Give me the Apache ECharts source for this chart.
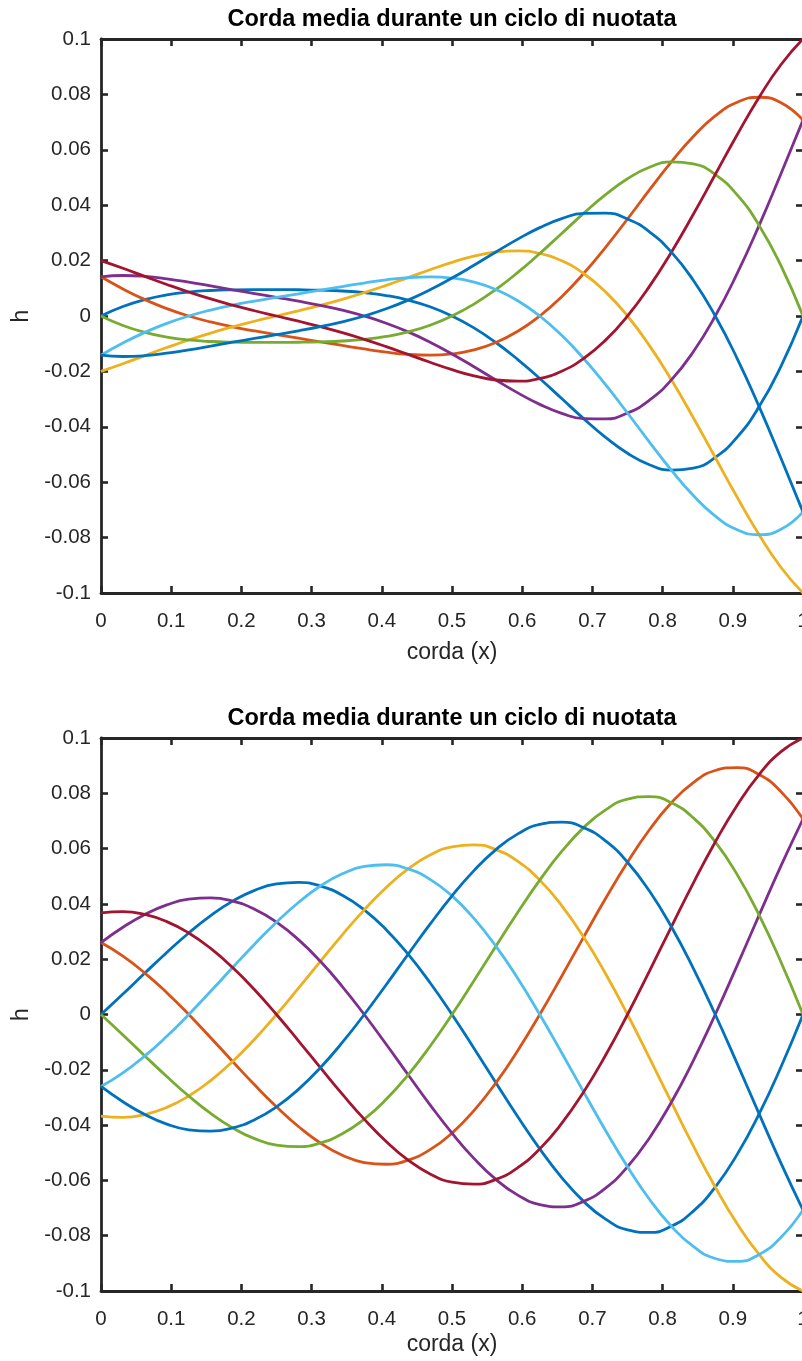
<!DOCTYPE html>
<html>
<head>
<meta charset="utf-8">
<script src="https://cdn.jsdelivr.net/npm/echarts@6/dist/echarts.min.js"></script>
<style>
html,body{margin:0;padding:0;background:#fff;}
#chart{width:802px;height:1361px;}
</style>
</head>
<body>
<div id="chart"></div>
<script>
// chord positions (x)
const xs = [0, 0.03125, 0.0625, 0.09375, 0.125, 0.15625, 0.1875, 0.21875, 0.25, 0.28125, 0.3125, 0.34375, 0.375, 0.40625, 0.4375, 0.46875, 0.5, 0.53125, 0.5625, 0.59375, 0.625, 0.65625, 0.6875, 0.71875, 0.75, 0.78125, 0.8125, 0.84375, 0.875, 0.90625, 0.9375, 0.96875, 1];

// top panel curves (h)
const topBlue      = [0, 0.00343, 0.00592, 0.00761, 0.00865, 0.00921, 0.00946, 0.00954, 0.00953, 0.00947, 0.00932, 0.00902, 0.00842, 0.00739, 0.00574, 0.00332, 0, -0.0043, -0.00957, -0.01572, -0.02257, -0.0298, -0.03704, -0.04379, -0.04953, -0.05368, -0.05566, -0.05494, -0.05107, -0.04372, -0.03271, -0.01806, 0];
const topOrange    = [0.01414, 0.00977, 0.00592, 0.00267, 0, -0.00216, -0.00392, -0.00541, -0.00674, -0.00802, -0.00932, -0.01063, -0.01191, -0.01305, -0.01387, -0.01416, -0.0137, -0.01224, -0.00957, -0.00552, 0, 0.00699, 0.01534, 0.02481, 0.03502, 0.04551, 0.05566, 0.06481, 0.07223, 0.07718, 0.07897, 0.07698, 0.07071];
const topYellow    = [-0.02, -0.01724, -0.0143, -0.01139, -0.00865, -0.00615, -0.00392, -0.0019, 0, 0.00188, 0.00386, 0.00602, 0.00842, 0.01106, 0.01387, 0.01671, 0.01938, 0.02161, 0.02311, 0.02353, 0.02257, 0.01991, 0.01534, 0.00871, 0, -0.01068, -0.02305, -0.03671, -0.05107, -0.06543, -0.07897, -0.0908, -0.1];
const topPurple    = [0.01414, 0.01462, 0.0143, 0.01343, 0.01223, 0.01086, 0.00946, 0.00809, 0.00674, 0.00536, 0.00386, 0.00212, 0, -0.0026, -0.00574, -0.00946, -0.0137, -0.01832, -0.02311, -0.02776, -0.03191, -0.03515, -0.03704, -0.03713, -0.03502, -0.03041, -0.02305, -0.01289, 0, 0.01535, 0.03271, 0.05144, 0.07071];
const topGreen     = [0, -0.00343, -0.00592, -0.00761, -0.00865, -0.00921, -0.00946, -0.00954, -0.00953, -0.00947, -0.00932, -0.00902, -0.00842, -0.00739, -0.00574, -0.00332, 0, 0.0043, 0.00957, 0.01572, 0.02257, 0.0298, 0.03704, 0.04379, 0.04953, 0.05368, 0.05566, 0.05494, 0.05107, 0.04372, 0.03271, 0.01806, 0];
const topLightBlue = [-0.01414, -0.00977, -0.00592, -0.00267, 0, 0.00216, 0.00392, 0.00541, 0.00674, 0.00802, 0.00932, 0.01063, 0.01191, 0.01305, 0.01387, 0.01416, 0.0137, 0.01224, 0.00957, 0.00552, 0, -0.00699, -0.01534, -0.02481, -0.03502, -0.04551, -0.05566, -0.06481, -0.07223, -0.07718, -0.07897, -0.07698, -0.07071];
const topRed       = [0.02, 0.01724, 0.0143, 0.01139, 0.00865, 0.00615, 0.00392, 0.0019, 0, -0.00188, -0.00386, -0.00602, -0.00842, -0.01106, -0.01387, -0.01671, -0.01938, -0.02161, -0.02311, -0.02353, -0.02257, -0.01991, -0.01534, -0.00871, 0, 0.01068, 0.02305, 0.03671, 0.05107, 0.06543, 0.07897, 0.0908, 0.1];
const topBlue2     = [-0.01414, -0.01462, -0.0143, -0.01343, -0.01223, -0.01086, -0.00946, -0.00809, -0.00674, -0.00536, -0.00386, -0.00212, 0, 0.0026, 0.00574, 0.00946, 0.0137, 0.01832, 0.02311, 0.02776, 0.03191, 0.03515, 0.03704, 0.03713, 0.03502, 0.03041, 0.02305, 0.01289, 0, -0.01535, -0.03271, -0.05144, -0.07071];

// bottom panel curves (h)
const botBlue      = [0, 0.0074, 0.01499, 0.02245, 0.02948, 0.03576, 0.041, 0.0449, 0.04724, 0.0478, 0.04646, 0.04314, 0.03785, 0.03068, 0.0218, 0.01147, 0, -0.01221, -0.02471, -0.03701, -0.0486, -0.05896, -0.06759, -0.07403, -0.07788, -0.07881, -0.07659, -0.07112, -0.0624, -0.05059, -0.03595, -0.01891, 0];
const botOrange    = [0.02601, 0.02109, 0.01499, 0.00788, 0, -0.00839, -0.01698, -0.02544, -0.0334, -0.04052, -0.04646, -0.05088, -0.05353, -0.05416, -0.05264, -0.04888, -0.04289, -0.03477, -0.02471, -0.013, 0, 0.01383, 0.028, 0.04194, 0.05507, 0.06681, 0.07659, 0.08389, 0.08825, 0.0893, 0.08679, 0.08059, 0.07071];
const botYellow    = [-0.03679, -0.03723, -0.03618, -0.03359, -0.02948, -0.02389, -0.01698, -0.00893, 0, 0.00951, 0.01924, 0.02882, 0.03785, 0.04592, 0.05264, 0.05766, 0.06065, 0.06138, 0.05965, 0.05539, 0.0486, 0.0394, 0.028, 0.01473, 0, -0.01568, -0.03173, -0.04752, -0.0624, -0.07571, -0.08679, -0.09506, -0.1];
const botPurple    = [0.02601, 0.03156, 0.03618, 0.03963, 0.04169, 0.04218, 0.041, 0.03807, 0.0334, 0.02708, 0.01924, 0.01012, 0, -0.01077, -0.0218, -0.03266, -0.04289, -0.05203, -0.05965, -0.06533, -0.06873, -0.06955, -0.06759, -0.06276, -0.05507, -0.04464, -0.03173, -0.01669, 0, 0.01776, 0.03595, 0.05385, 0.07071];
const botGreen     = [0, -0.0074, -0.01499, -0.02245, -0.02948, -0.03576, -0.041, -0.0449, -0.04724, -0.0478, -0.04646, -0.04314, -0.03785, -0.03068, -0.0218, -0.01147, 0, 0.01221, 0.02471, 0.03701, 0.0486, 0.05896, 0.06759, 0.07403, 0.07788, 0.07881, 0.07659, 0.07112, 0.0624, 0.05059, 0.03595, 0.01891, 0];
const botLightBlue = [-0.02601, -0.02109, -0.01499, -0.00788, 0, 0.00839, 0.01698, 0.02544, 0.0334, 0.04052, 0.04646, 0.05088, 0.05353, 0.05416, 0.05264, 0.04888, 0.04289, 0.03477, 0.02471, 0.013, 0, -0.01383, -0.028, -0.04194, -0.05507, -0.06681, -0.07659, -0.08389, -0.08825, -0.0893, -0.08679, -0.08059, -0.07071];
const botRed       = [0.03679, 0.03723, 0.03618, 0.03359, 0.02948, 0.02389, 0.01698, 0.00893, 0, -0.00951, -0.01924, -0.02882, -0.03785, -0.04592, -0.05264, -0.05766, -0.06065, -0.06138, -0.05965, -0.05539, -0.0486, -0.0394, -0.028, -0.01473, 0, 0.01568, 0.03173, 0.04752, 0.0624, 0.07571, 0.08679, 0.09506, 0.1];
const botBlue2     = [-0.02601, -0.03156, -0.03618, -0.03963, -0.04169, -0.04218, -0.041, -0.03807, -0.0334, -0.02708, -0.01924, -0.01012, 0, 0.01077, 0.0218, 0.03266, 0.04289, 0.05203, 0.05965, 0.06533, 0.06873, 0.06955, 0.06759, 0.06276, 0.05507, 0.04464, 0.03173, 0.01669, 0, -0.01776, -0.03595, -0.05385, -0.07071];

const titleText = 'Corda media durante un ciclo di nuotata';
const xName = 'corda (x)';
const yName = 'h';

const colors = ['#0072BD', '#D95319', '#EDB120', '#7E2F8E', '#77AC30', '#4DBEEE', '#A2142F', '#0072BD'];
const topCurves = [topBlue, topOrange, topYellow, topPurple, topGreen, topLightBlue, topRed, topBlue2];
const botCurves = [botBlue, botOrange, botYellow, botPurple, botGreen, botLightBlue, botRed, botBlue2];

const FONT = "'Liberation Sans', Arial, Helvetica, sans-serif";
const AX = '#262626';

function pairs(ys) { return xs.map((x, i) => [x, ys[i]]); }

function xAxisDef(gridIndex, pos, nameGap) {
  const main = pos === 'bottom';
  return {
    type: 'value', gridIndex: gridIndex, position: pos,
    min: 0, max: 1, interval: 0.1,
    axisLine: { show: true, onZero: false, lineStyle: { color: AX, width: 2.8 } },
    axisTick: { show: true, inside: true, length: 7, lineStyle: { color: AX, width: 2.6 } },
    splitLine: { show: false },
    axisLabel: {
      show: main, margin: 18, color: AX, fontSize: 20.5, fontFamily: FONT,
      showMinLabel: true, showMaxLabel: true, hideOverlap: false,
      formatter: v => String(Math.round(v * 10) / 10)
    },
    name: main ? xName : '',
    nameLocation: 'middle', nameGap: nameGap,
    nameTextStyle: { color: AX, fontSize: 23, fontFamily: FONT }
  };
}

function yAxisDef(gridIndex, pos) {
  const main = pos === 'left';
  return {
    type: 'value', gridIndex: gridIndex, position: pos,
    min: -0.1, max: 0.1, interval: 0.02,
    axisLine: { show: true, onZero: false, lineStyle: { color: AX, width: 2.8 } },
    axisTick: { show: true, inside: true, length: 7, lineStyle: { color: AX, width: 2.6 } },
    splitLine: { show: false },
    axisLabel: {
      show: main, margin: 10, color: AX, fontSize: 20.5, fontFamily: FONT,
      showMinLabel: true, showMaxLabel: true,
      formatter: v => String(Math.round(v * 100) / 100)
    },
    name: main ? yName : '',
    nameLocation: 'middle', nameGap: 66,
    nameTextStyle: { color: AX, fontSize: 23, fontFamily: FONT }
  };
}

const series = [];
[topCurves, botCurves].forEach((curves, g) => {
  curves.forEach((ys, i) => {
    series.push({
      type: 'line', xAxisIndex: g * 2, yAxisIndex: g * 2,
      data: pairs(ys), smooth: 0.5, showSymbol: false, symbol: 'none',
      lineStyle: { color: colors[i], width: 2.8 },
      itemStyle: { color: colors[i] },
      clip: true, silent: true, animation: false, z: 2 + i
    });
  });
});

const chart = echarts.init(document.getElementById('chart'), null, { renderer: 'canvas' });
chart.setOption({
  backgroundColor: '#ffffff',
  animation: false,
  title: [
    { text: titleText, left: 452, top: 8, textAlign: 'center', padding: 0,
      textStyle: { fontSize: 23.5, fontWeight: 'bold', color: '#000', fontFamily: FONT } },
    { text: titleText, left: 452, top: 707, textAlign: 'center', padding: 0,
      textStyle: { fontSize: 23.5, fontWeight: 'bold', color: '#000', fontFamily: FONT } }
  ],
  grid: [
    { left: 101, top: 39, width: 702, height: 554, containLabel: false, outerBoundsMode: 'none' },
    { left: 101, top: 738, width: 702, height: 553, containLabel: false, outerBoundsMode: 'none' }
  ],
  xAxis: [xAxisDef(0, 'bottom', 48), xAxisDef(0, 'top', 0), xAxisDef(1, 'bottom', 42), xAxisDef(1, 'top', 0)],
  yAxis: [yAxisDef(0, 'left'), yAxisDef(0, 'right'), yAxisDef(1, 'left'), yAxisDef(1, 'right')],
  series: series
});
</script>
</body>
</html>
